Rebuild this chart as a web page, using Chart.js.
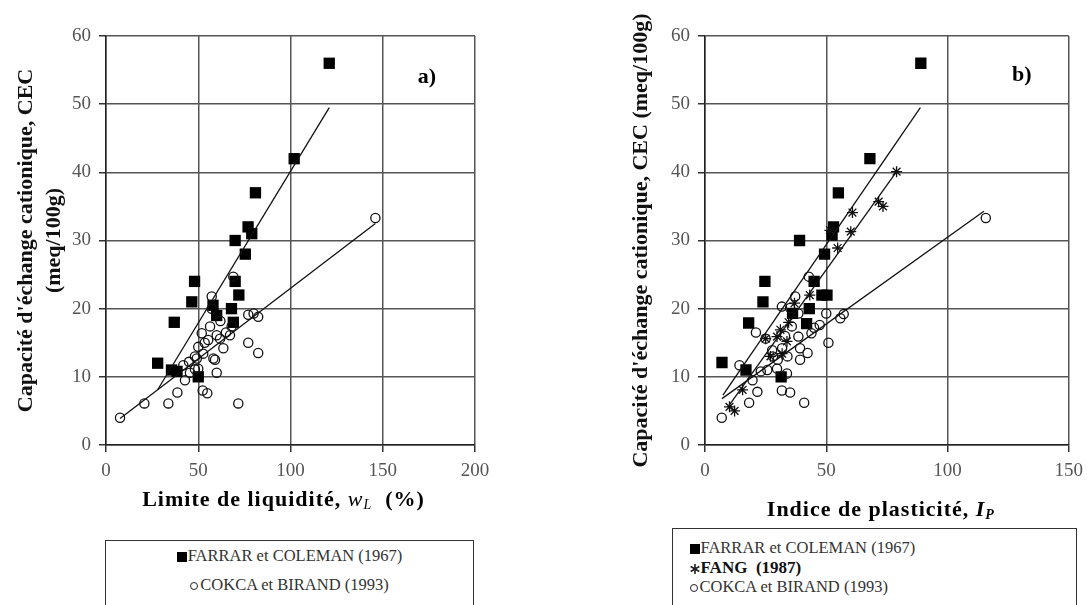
<!DOCTYPE html>
<html>
<head>
<meta charset="utf-8">
<script src="https://cdn.jsdelivr.net/npm/chart.js@4"></script>
<style>
  body { margin: 0; width: 1091px; height: 605px; overflow: hidden; background: #fff; font-family: "Liberation Serif", serif; position: relative; }
  .box { position: absolute; }
  .legend { position: absolute; border: 1.5px solid #333; box-sizing: border-box; color: #333; font-size: 16.5px; }
  .row { position: absolute; height: 20px; line-height: 20px; white-space: nowrap; }
  .sq { display: inline-block; width: 10px; height: 10px; background: #000; margin-right: 1px; vertical-align: -1px; }
  .ci { display: inline-block; width: 6px; height: 6px; border: 1.5px solid #222; border-radius: 50%; margin-right: 2px; vertical-align: 0; }
</style>
</head>
<body>
<div class="box" style="left:0;top:0;width:545px;height:525px"><canvas id="chartA"></canvas></div>
<div class="box" style="left:550px;top:0;width:541px;height:525px"><canvas id="chartB"></canvas></div>

<div class="legend" style="left:105px;top:540px;width:369px;height:80px">
  <div class="row" style="left:0;right:0;top:5px;text-align:center"><span class="sq"></span>FARRAR et COLEMAN (1967)</div>
  <div class="row" style="left:0;right:0;top:33.5px;text-align:center"><span class="ci"></span>COKCA et BIRAND (1993)</div>
</div>
<div class="legend" style="left:672px;top:528px;width:405px;height:90px">
  <div class="row" style="left:16.5px;top:8.5px"><span class="sq"></span>FARRAR et COLEMAN (1967)</div>
  <div class="row" style="left:16.5px;top:28.5px;font-weight:bold;color:#111;font-size:17px"><svg width="10" height="10" viewBox="0 0 10 10" style="margin-right:1px;vertical-align:-1px"><path d="M5 0V10M0.7 2.5L9.3 7.5M0.7 7.5L9.3 2.5" stroke="#222" stroke-width="1.6"/></svg>FANG&nbsp; (1987)</div>
  <div class="row" style="left:16.5px;top:47.5px"><span class="ci"></span>COKCA et BIRAND (1993)</div>
</div>

<script>
// a) CEC vs limite de liquidite
const farrarA_wL  = [121, 102, 81, 77, 79, 70, 75.5, 48, 70, 72, 46.5, 68, 58, 60, 69, 37, 28, 35.5, 38.5, 50];
const farrarA_cec = [56, 42, 37, 32, 31, 30, 28, 24, 24, 22, 21, 20, 20.5, 19, 18, 18, 12, 11, 10.8, 10];

const cokcaA_wL  = [7.6, 20.8, 33.8, 38.7, 42.8, 41.9, 45.5, 48.2, 50, 52.4, 54.9, 71.7, 60, 48.2, 49.2, 52.7, 58.2, 59.1, 50, 55.4, 51.9, 56.4, 57.3, 57.3, 60, 61.8, 63.6, 67.2, 68.1, 69, 77.1, 80, 82.5, 77.1, 82.5, 146, 53.5, 45, 62, 65];
const cokcaA_cec = [4.0, 6.1, 6.1, 7.7, 9.5, 11.7, 10.6, 11.1, 11.2, 8.0, 7.6, 6.1, 10.6, 13.0, 12.7, 13.4, 12.7, 12.5, 14.4, 15.4, 16.4, 17.4, 20.0, 21.8, 16.1, 15.6, 14.2, 16.1, 17.4, 24.7, 19.1, 19.3, 18.8, 15.0, 13.5, 33.3, 15.0, 12.2, 18.2, 16.5];

const trendA_farrar_x = [28, 121];
const trendA_farrar_y = [8.1, 49.5];
const trendA_cokca_x  = [7.6, 146];
const trendA_cokca_y  = [3.9, 32.5];

// b) CEC vs indice de plasticite
const farrarB_ip  = [89, 68, 55, 53, 52.4, 39, 49.3, 24.7, 45, 48.2, 50.3, 23.9, 43, 36.1, 41.9, 18, 7, 16.9, 31.4];
const farrarB_cec = [56, 42, 37, 32, 30.8, 30, 28, 24, 24, 22, 22, 21, 20, 19.3, 17.8, 17.9, 12.1, 11, 10];

const fangB_ip  = [79, 71.6, 73.4, 60.8, 60.1, 54.7, 51.5, 43.2, 36.9, 31.1, 29.7, 33.8, 31.8, 25, 27, 15.5, 10.1, 12.2, 34.5];
const fangB_cec = [40.1, 35.7, 35.0, 34.1, 31.3, 28.9, 31.5, 22.0, 20.8, 16.9, 15.9, 15.2, 13.4, 15.6, 13, 8.1, 5.6, 5.0, 18];

const cokcaB_ip  = [6.9, 18.2, 21.6, 31.7, 35.1, 40.9, 19.6, 14.2, 23, 25.7, 29.7, 33.8, 21, 25, 31.7, 35.1, 37.2, 42.8, 38.5, 38.5, 39.2, 39.2, 42.3, 43.9, 47.3, 50, 50.9, 55.8, 57.2, 31.8, 35.8, 27.7, 30, 33, 28, 34, 45, 115.8];
const cokcaB_cec = [4.0, 6.2, 7.8, 8.0, 7.7, 6.2, 9.5, 11.7, 10.8, 11, 11.2, 10.5, 16.5, 15.6, 20.3, 20.1, 21.8, 24.7, 19.3, 15.9, 14.2, 12.5, 13.5, 16.4, 17.6, 19.3, 15.0, 18.6, 19.2, 14.2, 17.4, 13.9, 12.5, 16, 13, 13, 17.2, 33.3];

const trendB_farrar_x = [7.4, 88.8];
const trendB_farrar_y = [7.3, 49.5];
const trendB_fang_x   = [9.5, 79];
const trendB_fang_y   = [5.6, 40.1];
const trendB_cokca_x  = [7, 115];
const trendB_cokca_y  = [6.8, 34.3];

const yTicks = [0, 10, 20, 30, 40, 50, 60];

const pts = (xs, ys) => xs.map((x, i) => ({ x: x, y: ys[i] }));

const squareSet = (xs, ys) => ({ data: pts(xs, ys), pointStyle: 'rect', pointRadius: 8, backgroundColor: '#000', borderWidth: 0 });
const circleSet = (xs, ys) => ({ data: pts(xs, ys), pointStyle: 'circle', pointRadius: 4.6, backgroundColor: 'rgba(255,255,255,0)', borderColor: '#111', borderWidth: 1.3 });
const starSet = (xs, ys) => ({ data: pts(xs, ys), pointStyle: 'star', pointRadius: 5.5, borderColor: '#111', borderWidth: 1.3 });
const trendSet = (xs, ys) => ({ data: pts(xs, ys), showLine: true, pointRadius: 0, borderColor: '#111', borderWidth: 1.3, fill: false });

// bold title with italic symbol + subscript, plus the a) / b) tag
const richTitle = {
  id: 'richTitle',
  afterDraw(chart, args, opts) {
    const { ctx, chartArea } = chart;
    ctx.save();
    ctx.fillStyle = '#000';
    ctx.textBaseline = 'middle';
    ctx.letterSpacing = '1px';
    let total = 0;
    opts.runs.forEach(r => { ctx.font = r.font; r.w = ctx.measureText(r.text).width; total += r.w; });
    let x = (chartArea.left + chartArea.right) / 2 + opts.dx - total / 2;
    opts.runs.forEach(r => {
      ctx.font = r.font;
      ctx.fillText(r.text, x, opts.y + (r.dy || 0));
      x += r.w;
    });
    ctx.letterSpacing = '0px';
    ctx.font = 'bold 22px "Liberation Serif"';
    ctx.textAlign = 'center';
    ctx.fillText(opts.tag, chartArea.right + opts.tagDx, chartArea.top + opts.tagDy);
    ctx.restore();
  }
};

function makeChart(id, datasets, cfg) {
  return new Chart(document.getElementById(id), {
    type: 'scatter',
    data: { datasets: datasets },
    options: {
      responsive: true,
      maintainAspectRatio: false,
      animation: false,
      layout: { padding: { top: 36, right: cfg.padRight, left: 0, bottom: 0 } },
      plugins: {
        legend: { display: false },
        tooltip: { enabled: false },
        richTitle: cfg.title
      },
      scales: {
        x: {
          min: 0, max: cfg.xMax,
          afterFit: s => { s.height = 80; },
          ticks: { stepSize: 50, padding: 8, color: '#555', font: { family: 'Liberation Serif', size: 19 } },
          grid: { color: '#555', lineWidth: 1.5, tickLength: 7, tickColor: '#333' },
          border: { color: '#222', width: 1.5 }
        },
        y: {
          min: 0, max: 60,
          afterFit: s => { s.width = cfg.yWidth; },
          afterBuildTicks: s => { s.ticks = yTicks.map(v => ({ value: v })); },
          ticks: { padding: 8, color: '#555', font: { family: 'Liberation Serif', size: 19 } },
          grid: { color: '#555', lineWidth: 1.5, tickLength: 7, tickColor: '#333' },
          border: { color: '#222', width: 1.5 },
          title: {
            display: true,
            text: cfg.yTitle,
            color: '#111',
            padding: { top: cfg.yTitlePad, bottom: 0 },
            font: { family: 'Liberation Serif', size: 22, weight: 'bold', lineHeight: 1.25 }
          }
        }
      }
    },
    plugins: [richTitle]
  });
}

makeChart('chartA', [
  trendSet(trendA_farrar_x, trendA_farrar_y),
  trendSet(trendA_cokca_x, trendA_cokca_y),
  circleSet(cokcaA_wL, cokcaA_cec),
  squareSet(farrarA_wL, farrarA_cec)
], {
  xMax: 200, padRight: 70, yWidth: 106, yTitlePad: 13,
  yTitle: ["Capacité d'échange cationique, CEC", '(meq/100g)'],
  title: {
    y: 500, dx: -7, tag: 'a)', tagDx: -48, tagDy: 41,
    runs: [
      { text: 'Limite de liquidité, ', font: 'bold 22px "Liberation Serif"' },
      { text: 'w', font: 'italic 22px "Liberation Serif"' },
      { text: 'L', font: 'italic 14px "Liberation Serif"', dy: 5 },
      { text: '  (%)', font: 'bold 22px "Liberation Serif"' }
    ]
  }
});

makeChart('chartB', [
  trendSet(trendB_farrar_x, trendB_farrar_y),
  trendSet(trendB_fang_x, trendB_fang_y),
  trendSet(trendB_cokca_x, trendB_cokca_y),
  circleSet(cokcaB_ip, cokcaB_cec),
  starSet(fangB_ip, fangB_cec),
  squareSet(farrarB_ip, farrarB_cec)
], {
  xMax: 150, padRight: 16, yWidth: 155, yTitlePad: 78,
  yTitle: "Capacité d'échange cationique, CEC (meq/100g)",
  title: {
    y: 510, dx: -6, tag: 'b)', tagDx: -47, tagDy: 39,
    runs: [
      { text: 'Indice de plasticité, ', font: 'bold 22px "Liberation Serif"' },
      { text: 'I', font: 'bold italic 22px "Liberation Serif"' },
      { text: 'P', font: 'bold italic 14px "Liberation Serif"', dy: 5 }
    ]
  }
});
</script>
</body>
</html>
